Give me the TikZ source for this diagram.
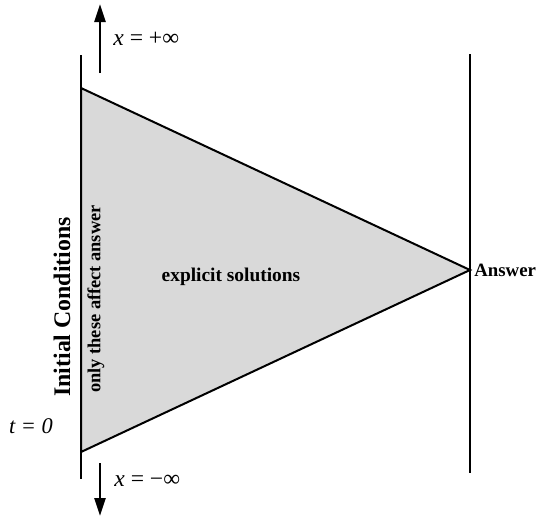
\documentclass[tikz,border=0pt]{standalone}
\usepackage{fontspec}
\setmainfont{Liberation Serif}
\usetikzlibrary{arrows.meta,positioning}
\begin{document}
\begin{tikzpicture}[x=0.5pt,y=-0.5pt,
  bound/.style={line width=1pt,black},
  limit/.style={line width=1.3pt,-{Triangle[length=9pt,width=5.5pt]}},
  lbl/.style={font=\fontsize{11.8}{14}\selectfont,inner sep=0pt}]
  \useasboundingbox (0,0) rectangle (537,516);
  % Boundaries of the domain
  \coordinate (lt) at (81,55);
  \coordinate (lb) at (81,479);
  \coordinate (rt) at (470,54);
  \coordinate (rb) at (470,473);
  \draw[bound] (lt) -- (lb);
  \draw[bound] (rt) -- (rb);
  % Domain of dependence
  \coordinate (top) at (81,88);
  \coordinate (ans) at (470,270);
  \coordinate (bot) at (81,452);
  \draw[bound,fill=black!15,line join=miter] (top) -- (ans) -- (bot) -- cycle;
  % Limits in x
  \coordinate (up0) at (100,73);
  \coordinate (up1) at (100,4);
  \coordinate (dn0) at (100,463);
  \coordinate (dn1) at (100,516);
  \draw[limit] (up0) -- (up1);
  \draw[limit] (dn0) -- (dn1);
  \node[lbl,anchor=west] (xp) at (113,39) {\textit{x} = +∞};
  \node[lbl,anchor=west] (xm) at (114,481) {\textit{x} = −∞};
  \node[lbl,font=\fontsize{11.2}{13}\selectfont] (t0) at (31,426) {\textit{t = 0}};
  % Labels
  \node[font=\fontsize{11.9}{14}\selectfont\bfseries,rotate=90] (ic) at (62,307) {Initial Conditions};
  \node[font=\fontsize{9.2}{11}\selectfont\bfseries,rotate=90] (only) at (96,299) {only these affect answer};
  \node[font=\fontsize{9.7}{12}\selectfont\bfseries] (expl) at (231,277) {explicit solutions};
  \node[font=\fontsize{9.4}{12}\selectfont\bfseries,anchor=west,inner sep=0pt] (answer) at (474,270) {Answer};
\end{tikzpicture}
\end{document}
